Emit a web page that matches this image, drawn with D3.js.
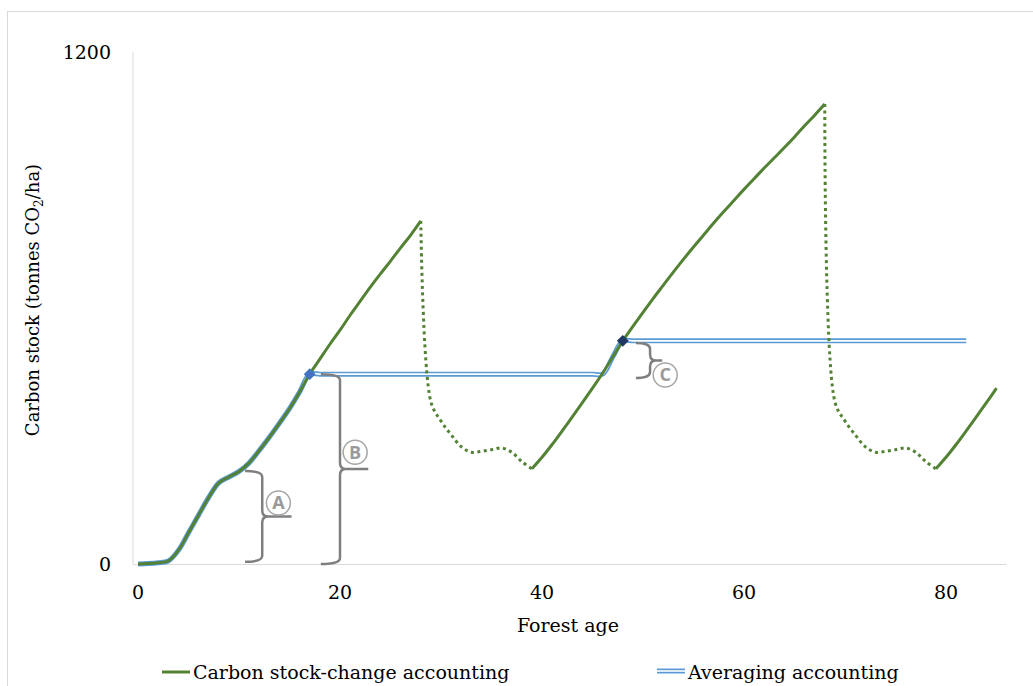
<!DOCTYPE html>
<html>
<head>
<meta charset="utf-8">
<script src="https://cdn.jsdelivr.net/npm/d3@7"></script>
<style>
  body { margin: 0; background: #fff; }
  text { font-family: "DejaVu Serif", serif; fill: #000; }
</style>
</head>
<body>
<div id="chart"></div>
<script>
// forest age 0..85, carbon stock (tonnes CO2/ha)
const ages = [0,1,2,3,4,5,6,7,8,9,10,11,12,13,14,15,16,17,18,19,20,21,22,23,24,25,26,27,28,29,30,31,32,33,34,35,36,37,38,39,40,41,42,43,44,45,46,47,48,49,50,51,52,53,54,55,56,57,58,59,60,61,62,63,64,65,66,67,68,69,70,71,72,73,74,75,76,77,78,79,80,81,82,83,84,85];
const stockChange = [0,1,3,7,32,73,115,156,190,204,217,237,266,297,330,364,403,445,480,515,548,583,616,649,680,710,741,771,804,380,335,303,275,262,264,268,272,262,240,223,250,280,312,345,378,412,447,485,523,557,590,622,653,684,714,743,771,799,826,852,878,903,928,952,976,1001,1027,1052,1078,380,335,303,275,262,264,268,272,262,240,223,250,280,312,345,378,412];
// harvest / regrowth periods drawn dotted
const dottedSpans = [[28, 39], [68, 79]];

const avgAges = [0,1,2,3,4,5,6,7,8,9,10,11,12,13,14,15,16,17,18,19,20,21,22,23,24,25,26,27,28,29,30,31,32,33,34,35,36,37,38,39,40,41,42,43,44,45,46,47,48,49,50,51,52,53,54,55,56,57,58,59,60,61,62,63,64,65,66,67,68,69,70,71,72,73,74,75,76,77,78,79,80,81,82];
const averaging = [0,1,3,7,32,73,115,156,190,204,217,237,266,297,330,364,403,445,445,445,445,445,445,445,445,445,445,445,445,445,445,445,445,445,445,445,445,445,445,445,445,445,445,445,445,445,445,485,523,523,523,523,523,523,523,523,523,523,523,523,523,523,523,523,523,523,523,523,523,523,523,523,523,523,523,523,523,523,523,523,523,523,523];
const markers = [
  { age: 17, value: 445, color: "#4472c4" },
  { age: 48, value: 523, color: "#1f3864" }
];

const braces = [
  { label: "A", x: 12.3, lo: 5, hi: 218, hook: 10.6, tip: 15.2, lx: 13.9, ly: 143 },
  { label: "B", x: 20.0, lo: 0, hi: 445, hook: 18.1, tip: 22.8, lx: 21.5, ly: 262 },
  { label: "C", x: 50.7, lo: 436, hi: 518, hook: 49.3, tip: 51.9, lx: 52.2, ly: 443 }
];

const xTicks = [0, 20, 40, 60, 80];
const yTicks = [0, 1200];

const width = 1033;
const height = 686;

const svg = d3.select("#chart").append("svg")
  .attr("width", width)
  .attr("height", height);

svg.append("rect")
  .attr("x", 7.5).attr("y", 11.5)
  .attr("width", 1040).attr("height", 700)
  .attr("fill", "none").attr("stroke", "#d9d9d9");

const x = d3.scaleLinear().domain([0, 80]).range([138, 946]);
const y = d3.scaleLinear().domain([0, 1200]).range([564, 52]);

// axis lines
svg.append("line")
  .attr("x1", x(-0.5)).attr("x2", x(-0.5))
  .attr("y1", y(1200)).attr("y2", y(0))
  .attr("stroke", "#d9d9d9");
svg.append("line")
  .attr("x1", x(-0.5)).attr("x2", x(86))
  .attr("y1", y(0) + 0.5).attr("y2", y(0) + 0.5)
  .attr("stroke", "#d9d9d9");

svg.selectAll(".ytick").data(yTicks).join("text")
  .attr("class", "ytick")
  .attr("x", 111).attr("y", (d) => y(d))
  .attr("dy", "0.35em")
  .attr("text-anchor", "end")
  .style("font-size", "19px")
  .text((d) => d);

svg.selectAll(".xtick").data(xTicks).join("text")
  .attr("class", "xtick")
  .attr("x", (d) => x(d)).attr("y", 599)
  .attr("text-anchor", "middle")
  .style("font-size", "19px")
  .text((d) => d);

svg.append("text")
  .attr("x", 568).attr("y", 632)
  .attr("text-anchor", "middle")
  .style("font-size", "19px")
  .text("Forest age");

const yTitle = svg.append("text")
  .attr("transform", "translate(39,300) rotate(-90)")
  .attr("text-anchor", "middle")
  .style("font-size", "18px");
yTitle.append("tspan").text("Carbon stock (tonnes CO");
yTitle.append("tspan").attr("dy", 4).style("font-size", "12px").text("2");
yTitle.append("tspan").attr("dy", -4).text("/ha)");

const line = d3.line()
  .x((d) => x(d[0]))
  .y((d) => y(d[1]))
  .curve(d3.curveCatmullRom.alpha(0.5));

// averaging accounting: double blue line
const avgPts = avgAges.map((a, i) => [a, averaging[i]]);
svg.append("path").attr("d", line(avgPts))
  .attr("fill", "none").attr("stroke", "#5b9bd5").attr("stroke-width", 5);
svg.append("path").attr("d", line(avgPts))
  .attr("fill", "none").attr("stroke", "#fff").attr("stroke-width", 1.6);

// stock-change accounting: solid growth, dotted harvest
const pts = ages.map((a, i) => [a, stockChange[i]]);
const inDotted = (a) => dottedSpans.some((s) => a > s[0] && a < s[1]);
const solidSegs = [];
let cur = [];
pts.forEach((p) => {
  if (inDotted(p[0])) {
    if (cur.length) solidSegs.push(cur);
    cur = [];
  } else {
    if (cur.length && dottedSpans.some((s) => p[0] === s[1] && cur[cur.length - 1][0] === s[0])) {
      solidSegs.push(cur);
      cur = [];
    }
    cur.push(p);
  }
});
if (cur.length) solidSegs.push(cur);

solidSegs.forEach((seg) => {
  svg.append("path").attr("d", line(seg))
    .attr("fill", "none").attr("stroke", "#548235").attr("stroke-width", 3);
});
dottedSpans.forEach((s) => {
  const seg = pts.filter((p) => p[0] >= s[0] && p[0] <= s[1]);
  svg.append("path").attr("d", line(seg))
    .attr("fill", "none").attr("stroke", "#548235").attr("stroke-width", 3)
    .attr("stroke-dasharray", "3,3.5");
});

svg.selectAll(".marker").data(markers).join("path")
  .attr("class", "marker")
  .attr("d", d3.symbol().type(d3.symbolDiamond2).size(90))
  .attr("transform", (d) => `translate(${x(d.age)},${y(d.value)})`)
  .attr("fill", (d) => d.color);

// braces
braces.forEach((b) => {
  const bx = x(b.x), yt = y(b.hi), yb = y(b.lo), ym = (yt + yb) / 2;
  const hx = x(b.hook), tx = x(b.tip);
  const r = Math.min(6, (yb - yt) / 4);
  const p = d3.path();
  p.moveTo(hx, yt);
  p.quadraticCurveTo(bx, yt, bx, yt + r);
  p.lineTo(bx, ym - r);
  p.quadraticCurveTo(bx, ym, bx + r, ym);
  p.lineTo(tx, ym);
  p.moveTo(bx + r, ym);
  p.quadraticCurveTo(bx, ym, bx, ym + r);
  p.lineTo(bx, yb - r);
  p.quadraticCurveTo(bx, yb, hx, yb);
  svg.append("path").attr("d", p.toString())
    .attr("fill", "none").attr("stroke", "#7f7f7f").attr("stroke-width", 2.5);
  svg.append("circle")
    .attr("cx", x(b.lx)).attr("cy", y(b.ly)).attr("r", 12)
    .attr("fill", "#fff").attr("stroke", "#a6a6a6").attr("stroke-width", 1.5);
  svg.append("text")
    .attr("x", x(b.lx)).attr("y", y(b.ly))
    .attr("dy", "0.36em")
    .attr("text-anchor", "middle")
    .style("font-family", "'Open Sans', sans-serif")
    .style("font-size", "18px")
    .style("font-weight", "bold")
    .style("fill", "#9a9a9a")
    .text(b.label);
});

// legend
svg.append("line")
  .attr("x1", 162).attr("x2", 190).attr("y1", 672).attr("y2", 672)
  .attr("stroke", "#548235").attr("stroke-width", 3);
svg.append("text").attr("x", 193).attr("y", 679)
  .style("font-size", "19px").text("Carbon stock-change accounting");
svg.append("line")
  .attr("x1", 657).attr("x2", 685).attr("y1", 671).attr("y2", 671)
  .attr("stroke", "#5b9bd5").attr("stroke-width", 5);
svg.append("line")
  .attr("x1", 657).attr("x2", 685).attr("y1", 671).attr("y2", 671)
  .attr("stroke", "#fff").attr("stroke-width", 1.6);
svg.append("text").attr("x", 688).attr("y", 679)
  .style("font-size", "19px").text("Averaging accounting");
</script>
</body>
</html>
